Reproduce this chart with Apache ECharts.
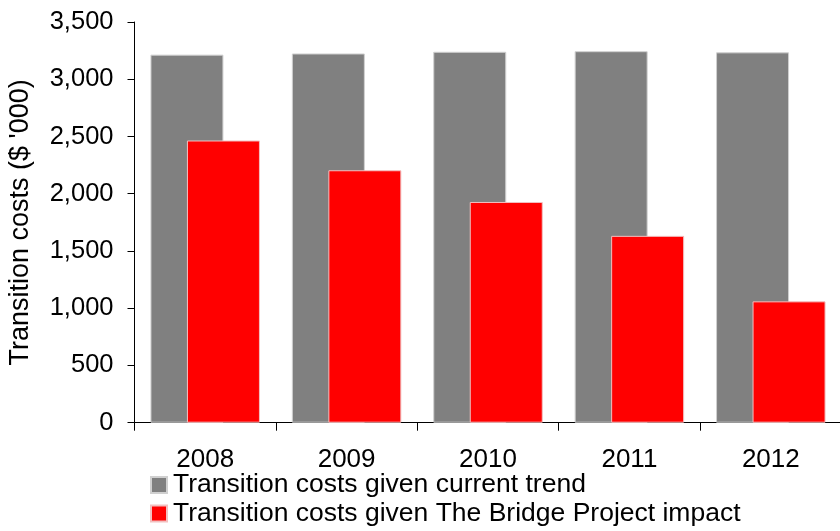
<!DOCTYPE html>
<html>
<head>
<meta charset="utf-8">
<style>
  html, body { margin: 0; padding: 0; background: #fff; }
  #chart { width: 840px; height: 531px; }
</style>
<script src="https://cdn.jsdelivr.net/npm/echarts@6/dist/echarts.min.js"></script>
</head>
<body>
<div id="chart"></div>
<script>
// Transition costs per year ($ '000)
const years = ['2008', '2009', '2010', '2011', '2012'];
const currentTrend = [3215, 3225, 3240, 3245, 3235];
const bridgeImpact = [2465, 2205, 1928, 1632, 1060];
const seriesNames = [
  'Transition costs given current trend',
  'Transition costs given The Bridge Project impact'
];
const yTicks = { min: 0, max: 3500, interval: 500 };

const FONT = 'Liberation Sans';
const chart = echarts.init(document.getElementById('chart'), null, { renderer: 'canvas' });

// one legend box per row so the two entries stack under the axis
const legendRow = (name, top) => ({
  data: [name],
  orient: 'vertical',
  left: 150,
  top: top,
  itemWidth: 16,
  itemHeight: 16,
  itemGap: 0,
  icon: 'rect',
  padding: 0,
  textStyle: { fontFamily: FONT, fontSize: 26.5, color: '#000', padding: [0, 0, 0, 1] }
});

chart.setOption({
  animation: false,
  textStyle: { fontFamily: FONT },
  grid: {
    left: 134.5, right: -1.5, top: 22, bottom: 108.3,
    containLabel: false,
    outerBoundsMode: 'none'
  },
  legend: [
    legendRow(seriesNames[0], 471.5),
    legendRow(seriesNames[1], 500)
  ],
  xAxis: {
    type: 'category',
    data: years,
    axisLine: { lineStyle: { color: '#000', width: 1 } },
    axisTick: { show: true, length: 8, lineStyle: { color: '#000' } },
    axisLabel: { fontFamily: FONT, fontSize: 26, color: '#000', margin: 24 }
  },
  yAxis: {
    type: 'value',
    min: yTicks.min,
    max: yTicks.max,
    interval: yTicks.interval,
    name: "Transition costs ($ '000)",
    nameLocation: 'middle',
    nameGap: 100,
    nameRotate: 90,
    nameTextStyle: { fontFamily: FONT, fontSize: 27, color: '#000' },
    axisLine: { show: true, lineStyle: { color: '#000', width: 1 } },
    axisTick: { show: true, length: 7, lineStyle: { color: '#000' } },
    splitLine: { show: false },
    axisLabel: {
      fontFamily: FONT,
      fontSize: 25.5,
      color: '#000',
      margin: 21,
      formatter: v => v.toLocaleString('en-US')
    }
  },
  series: [
    {
      name: seriesNames[0],
      type: 'bar',
      data: currentTrend,
      barWidth: 73,
      barGap: '-50%',
      itemStyle: { color: '#808080', borderColor: '#d0d0d0', borderWidth: 1 }
    },
    {
      name: seriesNames[1],
      type: 'bar',
      data: bridgeImpact,
      barWidth: 73,
      barGap: '-50%',
      itemStyle: { color: '#ff0000', borderColor: '#f2c0c0', borderWidth: 1 }
    }
  ]
});
</script>
</body>
</html>
